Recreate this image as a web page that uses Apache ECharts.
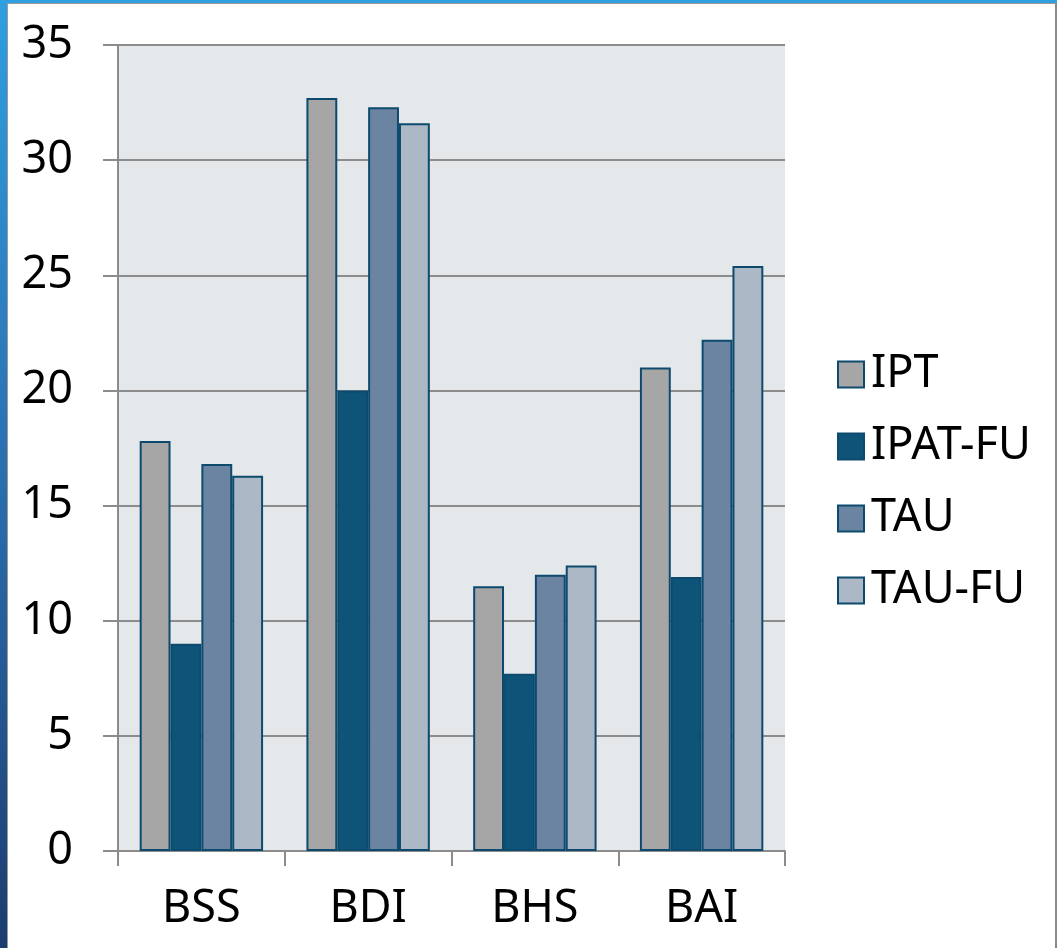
<!DOCTYPE html>
<html>
<head>
<meta charset="utf-8">
<script src="https://cdn.jsdelivr.net/npm/echarts@6/dist/echarts.min.js"></script>
<style>
  html, body { margin: 0; padding: 0; width: 1057px; height: 948px; overflow: hidden; }
  body { background: linear-gradient(180deg, #2f9fe0 0%, #2a6fb0 50%, #1c3d6e 100%); }
  .frame {
    position: absolute; left: 7px; top: 3px; right: 0; bottom: -5px;
    background: #fff;
    border-left: 1px solid #9a9a9a;
    border-top: 1px solid #9a9a9a;
    border-right: 2px solid #8a8a8a;
  }
  #chart { position: absolute; left: 0; top: 0; width: 1057px; height: 948px; }
</style>
</head>
<body>
<div class="frame"></div>
<div id="chart"></div>
<script>
const categories = ['BSS', 'BDI', 'BHS', 'BAI']
const seriesNames = ['IPT', 'IPAT-FU', 'TAU', 'TAU-FU']
const iptValues = [17.8, 32.7, 11.5, 21.0]
const ipatFuValues = [9.0, 20.0, 7.7, 11.9]
const tauValues = [16.8, 32.3, 12.0, 22.2]
const tauFuValues = [16.3, 31.6, 12.4, 25.4]

const colors = ['#a6a6a6', '#0e5479', '#6a84a1', '#adb8c6']
const edge = '#0d4a6e'
const font = '"Noto Sans", "Open Sans", sans-serif'

const chart = echarts.init(document.getElementById('chart'), null, { renderer: 'canvas' })

const makeBar = (name, data, i) => ({
  name,
  type: 'bar',
  data,
  barGap: '0%',
  barCategoryGap: '26%',
  itemStyle: { color: colors[i], borderColor: edge, borderWidth: 2 },
})

chart.setOption({
  backgroundColor: 'transparent',
  animation: false,
  grid: {
    left: 118, right: 272, top: 45, bottom: 97,
    show: true, backgroundColor: '#e4e8eb', borderWidth: 0,
  },
  legend: {
    orient: 'vertical',
    left: 832,
    top: 347,
    itemWidth: 26,
    itemHeight: 26,
    itemGap: 27,
    icon: 'rect',
    textStyle: { fontFamily: font, fontSize: 45, color: '#000', padding: [0, 0, 0, 2] },
    itemStyle: { borderColor: edge, borderWidth: 2 },
    data: seriesNames,
  },
  xAxis: {
    type: 'category',
    data: categories,
    axisLine: { lineStyle: { color: '#8c8c8c', width: 2 } },
    axisTick: { show: true, length: 15, alignWithLabel: false, lineStyle: { color: '#8c8c8c', width: 2 } },
    axisLabel: { fontFamily: font, fontSize: 45, color: '#000', margin: 36 },
  },
  yAxis: {
    type: 'value',
    min: 0,
    max: 35,
    interval: 5,
    axisLine: { show: true, lineStyle: { color: '#8c8c8c', width: 2 } },
    axisTick: { show: true, length: 15, lineStyle: { color: '#8c8c8c', width: 2 } },
    splitLine: { lineStyle: { color: '#8c8c8c', width: 2 } },
    axisLabel: { fontFamily: font, fontSize: 45, color: '#000', margin: 45 },
  },
  series: [
    makeBar(seriesNames[0], iptValues, 0),
    makeBar(seriesNames[1], ipatFuValues, 1),
    makeBar(seriesNames[2], tauValues, 2),
    makeBar(seriesNames[3], tauFuValues, 3),
  ],
})
</script>
</body>
</html>
